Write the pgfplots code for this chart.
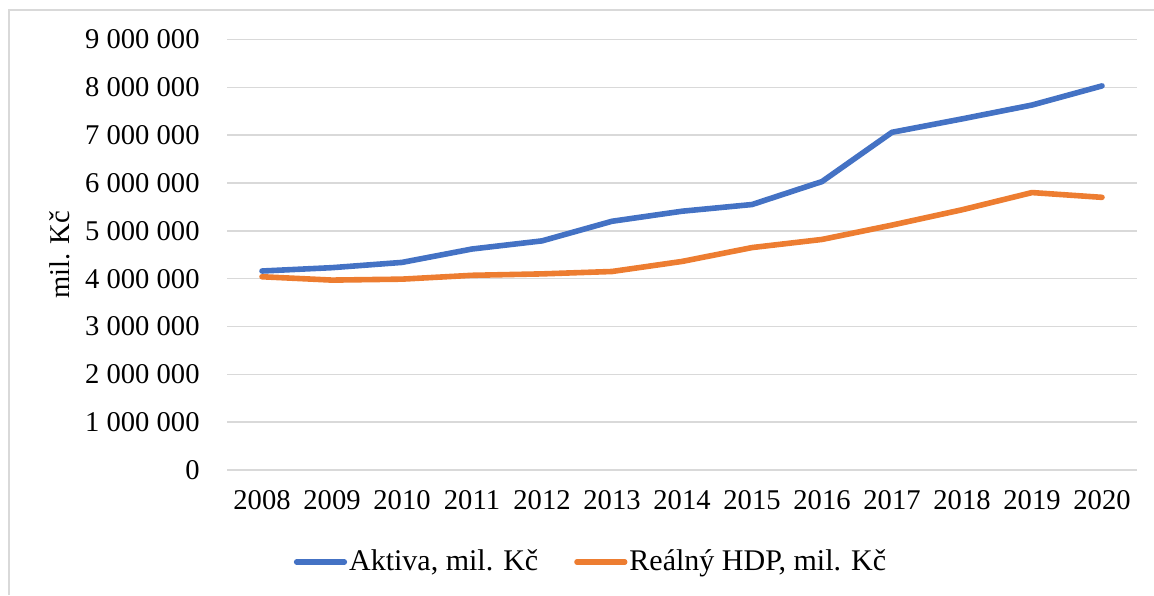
\documentclass[border=0pt]{standalone}
\usepackage{fontspec}
\setmainfont{Liberation Serif}
\usepackage{pgfplots}
\pgfplotsset{compat=1.18}
\definecolor{cblue}{HTML}{4472C4}
\definecolor{corange}{HTML}{ED7D31}
\definecolor{cgrid}{HTML}{D9D9D9}
\begin{document}
\fontsize{14.3pt}{17pt}\selectfont
\begin{tikzpicture}
\useasboundingbox (0,0) rectangle (577pt,297.5pt);
\draw[cgrid, line width=0.75pt] (4.5pt,0) -- (4.5pt,292.5pt) -- (577pt,292.5pt);
\begin{axis}[
  at={(113.5pt,62.5pt)}, anchor=south west,
  scale only axis, width=455pt, height=215.25pt,
  xmin=2007.5, xmax=2020.5, ymin=0, ymax=9000000,
  xtick={2008,2009,2010,2011,2012,2013,2014,2015,2016,2017,2018,2019,2020},
  xticklabels={2008,2009,2010,2011,2012,2013,2014,2015,2016,2017,2018,2019,2020},
  ytick={0,1000000,2000000,3000000,4000000,5000000,6000000,7000000,8000000,9000000},
  yticklabels={0,1~000~000,2~000~000,3~000~000,4~000~000,5~000~000,6~000~000,7~000~000,8~000~000,9~000~000},
  scaled y ticks=false,
  axis line style={draw=none},
  major tick length=0pt,
  ymajorgrids, grid style={cgrid, line width=0.75pt},
  yticklabel style={anchor=east, inner sep=0pt, xshift=-13.5pt},
  xticklabel style={anchor=north, inner sep=0pt, yshift=-10pt},
  ylabel={mil. Kč},
  ylabel style={at={(axis description cs:-0.1835,0.5)}, anchor=center},
  legend columns=2,
  legend style={draw=none, fill=none, at={(axis description cs:0.4,-0.2137)}, anchor=center,
    font=\fontsize{15pt}{18pt}\selectfont,
    /tikz/every even column/.append style={column sep=17pt},
    nodes={inner sep=1pt}},
  legend image code/.code={\draw[#1, line width=2.6pt, line cap=round] (0pt,0pt) -- (24pt,0pt);},
]
\addplot[cblue, line width=2.8pt, line cap=round, line join=round] coordinates {
(2008,4160000) (2009,4230000) (2010,4340000) (2011,4620000) (2012,4790000)
(2013,5200000) (2014,5410000) (2015,5550000) (2016,6030000) (2017,7060000)
(2018,7340000) (2019,7630000) (2020,8030000)};
\addlegendentry{Aktiva, mil. Kč}
\addplot[corange, line width=2.8pt, line cap=round, line join=round] coordinates {
(2008,4040000) (2009,3970000) (2010,3990000) (2011,4070000) (2012,4100000)
(2013,4150000) (2014,4360000) (2015,4650000) (2016,4820000) (2017,5120000)
(2018,5440000) (2019,5800000) (2020,5700000)};
\addlegendentry{Reálný HDP, mil. Kč}
\end{axis}
\end{tikzpicture}
\end{document}
